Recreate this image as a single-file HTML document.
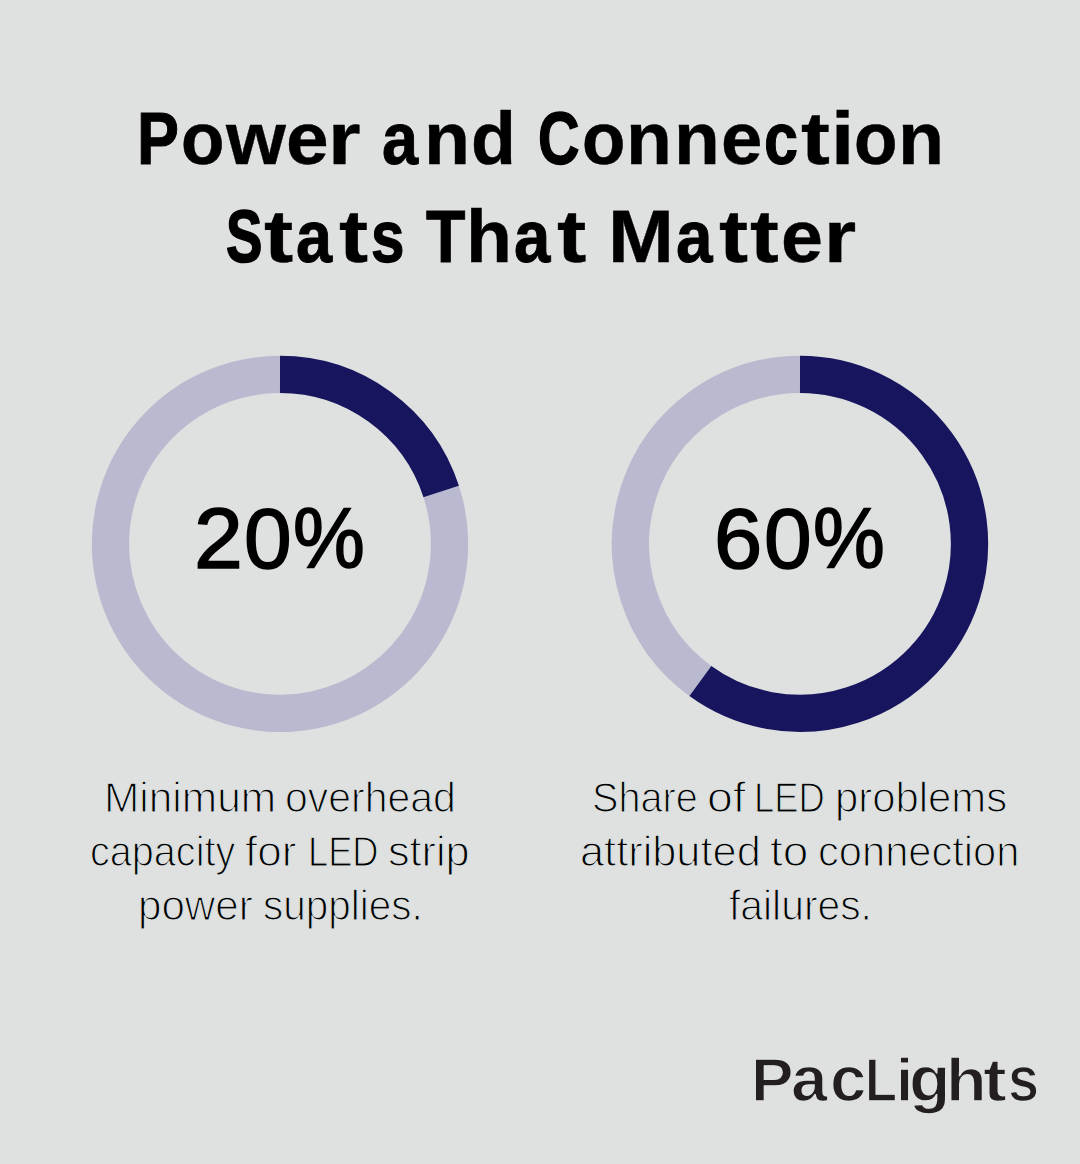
<!DOCTYPE html>
<html lang="en">
<head>
<meta charset="utf-8">
<title>Power and Connection Stats That Matter</title>
<style>
  html, body { margin: 0; padding: 0; }
  body { width: 1080px; height: 1164px; background: #dfe1e0; overflow: hidden; position: relative;
         font-family: "Liberation Sans", sans-serif; }
  /* every text line is absolutely placed; letters / words are inline-blocks with tuned advance + horizontal scale */
  .ln { position: absolute; margin: 0; white-space: nowrap; color: #000; }
  .ln span { display: inline-block; transform-origin: 0 0; }
  .title { font-weight: bold; font-size: 75px; line-height: 75px; height: 75px; -webkit-text-stroke: 0.4px #000; }
  .pct { font-size: 86px; line-height: 86px; height: 86px; -webkit-text-stroke: 1.6px #000; }
  .cap { font-size: 43px; line-height: 44px; height: 44px; -webkit-text-stroke: 1.25px #dfe1e0; }
  .logo { font-weight: bold; font-size: 62px; line-height: 70px; height: 70px; color: #231f20; -webkit-text-stroke: 1.4px #dfe1e0; }
  .logo span { transform-origin: 0 55.6px; }
  svg.rings { position: absolute; left: 0; top: 0; }
</style>
</head>
<body>
  <!-- heading -->
  <h1 class="ln title" style="left:137.22px;top:101px"><span style="width:43.41px;transform:scaleX(0.839);-webkit-text-stroke-width:1.11px">P</span><span style="width:44.88px;transform:scaleX(0.947);-webkit-text-stroke-width:0.58px">o</span><span style="width:60.38px;transform:scaleX(1.026)">w</span><span style="width:42.61px;transform:scaleX(1.022)">e</span><span style="width:32.25px;transform:scaleX(1.115)">r</span> <span style="width:42.74px;transform:scaleX(0.863);-webkit-text-stroke-width:0.98px">a</span><span style="width:46.77px;transform:scaleX(1.004)">n</span><span style="width:45.64px;transform:scaleX(0.980);-webkit-text-stroke-width:0.47px">d</span> <span style="width:44.26px;transform:scaleX(0.767);-webkit-text-stroke-width:1.43px">C</span><span style="width:44.51px;transform:scaleX(0.945);-webkit-text-stroke-width:0.59px">o</span><span style="width:47.21px;transform:scaleX(1.001)">n</span><span style="width:47.62px;transform:scaleX(0.999)">n</span><span style="width:43.39px;transform:scaleX(0.992);-webkit-text-stroke-width:0.41px">e</span><span style="width:36.17px;transform:scaleX(0.816);-webkit-text-stroke-width:1.15px">c</span><span style="width:29.99px;transform:scaleX(1.157)">t</span><span style="width:23.11px;transform:scaleX(1.116)">i</span><span style="width:44.49px;transform:scaleX(0.947);-webkit-text-stroke-width:0.58px">o</span><span style="width:40px;transform:scaleX(1.007)">n</span></h1>
  <div class="ln title" role="heading" style="left:226.19px;top:199px"><span style="width:38.13px;transform:scaleX(0.729);-webkit-text-stroke-width:1.59px">S</span><span style="width:32.07px;transform:scaleX(1.170)">t</span><span style="width:42.64px;transform:scaleX(0.863);-webkit-text-stroke-width:0.97px">a</span><span style="width:32.27px;transform:scaleX(1.166)">t</span><span style="width:33.46px;transform:scaleX(0.803);-webkit-text-stroke-width:1.25px">s</span> <span style="width:40.8px;transform:scaleX(0.860);-webkit-text-stroke-width:1.0px">T</span><span style="width:47.99px;transform:scaleX(1.003)">h</span><span style="width:42.94px;transform:scaleX(0.871);-webkit-text-stroke-width:0.94px">a</span><span style="width:29.44px;transform:scaleX(1.174)">t</span> <span style="width:67.98px;transform:scaleX(1.055)">M</span><span style="width:43.16px;transform:scaleX(0.876);-webkit-text-stroke-width:0.91px">a</span><span style="width:31.31px;transform:scaleX(1.166)">t</span><span style="width:31px;transform:scaleX(1.153)">t</span><span style="width:42.53px;transform:scaleX(1.005)">e</span><span style="width:40px;transform:scaleX(1.102)">r</span></div>

  <!-- donut charts -->
  <svg class="rings" width="1080" height="1164" viewBox="0 0 1080 1164" fill="none" stroke-width="37.3" aria-hidden="true">
    <path d="M441.20 491.47A169.5 169.5 0 1 1 280.00 374.35" stroke="#b9b9cf"/>
    <path d="M280.00 374.35A169.5 169.5 0 0 1 441.20 491.47" stroke="#17155e"/>
    <path d="M700.37 680.98A169.5 169.5 0 0 1 800.00 374.35" stroke="#b9b9cf"/>
    <path d="M800.00 374.35A169.5 169.5 0 1 1 700.37 680.98" stroke="#17155e"/>
  </svg>
  <div class="ln pct" style="left:194.43px;top:495px"><span style="width:49.78px;transform:scaleX(1.021)">2</span><span style="width:48.48px;transform:scaleX(0.996)">0</span><span style="width:76px;transform:scaleX(0.939)">%</span></div>
  <div class="ln pct" style="left:714.47px;top:495px"><span style="width:49.74px;transform:scaleX(1.008)">6</span><span style="width:48.48px;transform:scaleX(0.996)">0</span><span style="width:76px;transform:scaleX(0.939)">%</span></div>

  <!-- captions -->
  <div class="ln cap" style="left:103.65px;top:775px"><span style="width:169.62px;transform:scaleX(0.9868)">Minimum</span> <span style="width:200px;transform:scaleX(0.9522)">overhead</span></div>
  <div class="ln cap" style="left:90.3px;top:829px"><span style="width:143.18px;transform:scaleX(0.9206)">capacity</span> <span style="width:50.36px;transform:scaleX(1.0241)">for</span> <span style="width:68.32px;transform:scaleX(0.8429)">LED</span> <span style="width:200px;transform:scaleX(1.0046)">strip</span></div>
  <div class="ln cap" style="left:138.27px;top:883px"><span style="width:112.6px;transform:scaleX(0.9800)">power</span> <span style="width:200px;transform:scaleX(0.9409)">supplies.</span></div>

  <div class="ln cap" style="left:592.17px;top:775px"><span style="width:103.19px;transform:scaleX(0.9215)">Share</span> <span style="width:34.47px;transform:scaleX(1.0788)">of</span> <span style="width:69.13px;transform:scaleX(0.8455)">LED</span> <span style="width:200px;transform:scaleX(0.9734)">problems</span></div>
  <div class="ln cap" style="left:580.38px;top:829px"><span style="width:177.44px;transform:scaleX(1.0081)">attributed</span> <span style="width:35.87px;transform:scaleX(1.0698)">to</span> <span style="width:200px;transform:scaleX(0.9683)">connection</span></div>
  <div class="ln cap" style="left:729.01px;top:883px"><span style="width:200px;transform:scaleX(0.9492)">failures.</span></div>

  <!-- brand -->
  <div class="ln logo" style="left:750.92px;top:1045px"><span style="width:40.34px;transform:scaleX(1.028)">P</span><span style="width:38.67px;transform:scale(1.058,1.04)">a</span><span style="width:35.15px;transform:scale(1.057,1.04)">c</span><span style="width:30.75px;transform:scaleX(0.846)">L</span><span style="width:13.6px;transform:scaleX(0.993)">i</span><span style="width:37px;transform:scale(1.096,1.04)">g</span><span style="width:36.63px;transform:scaleX(1.073)">h</span><span style="width:24.71px;transform:scaleX(1.155)">t</span><span style="width:36px;transform:scale(0.900,1.04)">s</span></div>
</body>
</html>
